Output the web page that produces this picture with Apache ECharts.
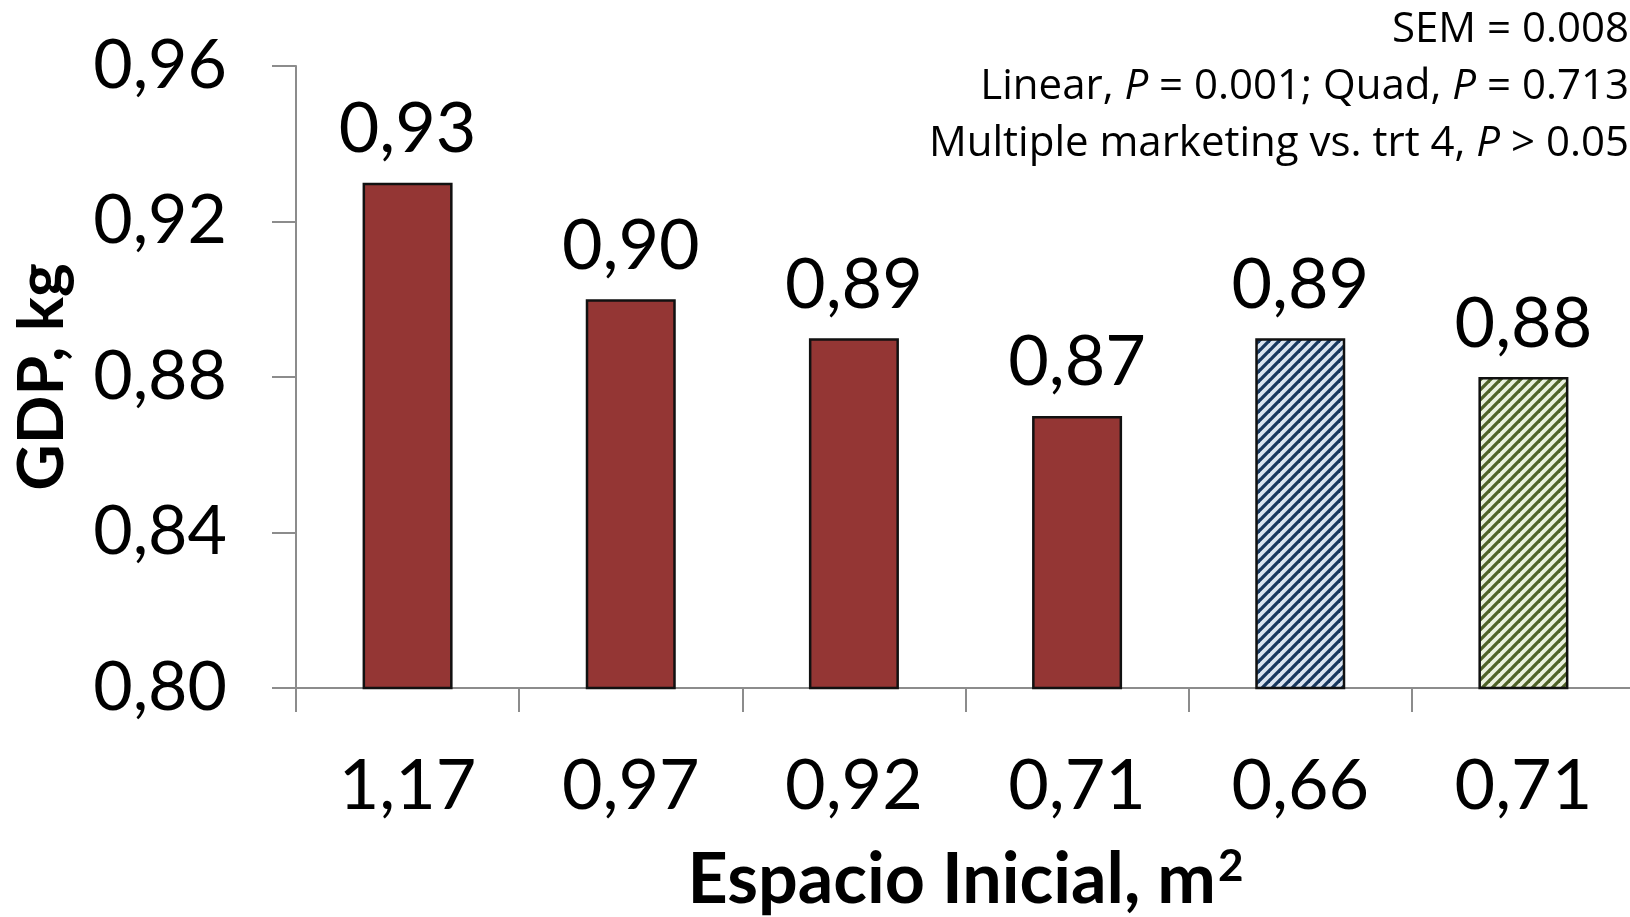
<!DOCTYPE html>
<html>
<head>
<meta charset="utf-8">
<script src="https://cdn.jsdelivr.net/npm/echarts@6/dist/echarts.min.js"></script>
<style>
  html, body { margin: 0; padding: 0; background: #ffffff; }
  #chart { width: 1630px; height: 917px; }
</style>
</head>
<body>
<div id="chart"></div>
<script>
// Initial floor space per treatment (m²) and average daily gain (kg)
const categories = ['1,17', '0,97', '0,92', '0,71', '0,66', '0,71'];
const gdpValues = [0.93, 0.90, 0.89, 0.87, 0.89, 0.88];
// Treatment kind: single placement vs. the two multiple-marketing groups
const treatmentKind = ['single', 'single', 'single', 'single', 'multiA', 'multiB'];
const yTicks = { min: 0.80, max: 0.96, step: 0.04 };
// Statistics note, top right; segments marked italic are drawn slanted
const noteLines = [
  [['SEM = 0.008', false]],
  [['Linear, ', false], ['P', true], [' = 0.001; Quad, ', false], ['P', true], [' = 0.713', false]],
  [['Multiple marketing vs. trt 4, ', false], ['P', true], [' > 0.05', false]]
];
const xTitle = 'Espacio Inicial, m';
const xTitleSup = '2';
const yTitle = 'GDP, kg';

const FONT = 'Lato, "Open Sans", sans-serif';
const NOTE_FONT = '"Open Sans", Lato, sans-serif';
const fmt = v => Number(v).toFixed(2).replace('.', ',');

// Diagonal hatch tile used for the multiple-marketing bars
function hatch(bg, fg) {
  const s = 10;
  const c = document.createElement('canvas');
  c.width = s; c.height = s;
  const g = c.getContext('2d');
  g.fillStyle = bg;
  g.fillRect(0, 0, s, s);
  g.strokeStyle = fg;
  g.lineWidth = 3.3;
  g.lineCap = 'square';
  [-s, 0, s].forEach(ox => {
    g.beginPath();
    g.moveTo(ox, s);
    g.lineTo(ox + s, 0);
    g.stroke();
  });
  return { image: c, repeat: 'repeat' };
}

const fills = {
  single: '#943634',
  multiA: hatch('#dbe5f1', '#17375e'),
  multiB: hatch('#ebf1de', '#4f6228')
};

const barData = gdpValues.map((v, i) => ({
  value: v,
  itemStyle: { color: fills[treatmentKind[i]] }
}));

// Note lines as rich text
const noteGraphics = noteLines.map((segs, li) => {
  const text = segs.map(([t, it]) => '{' + (it ? 'i' : 'r') + '|' + t + '}').join('');
  return {
    type: 'text',
    x: 1629,
    y: 30 + li * 57,
    style: {
      text: text,
      align: 'right',
      verticalAlign: 'middle',
      fill: '#000',
      font: '42px ' + NOTE_FONT,
      rich: {
        r: { fontSize: 42, fontFamily: NOTE_FONT, fill: '#000', color: '#000' },
        i: { fontSize: 42, fontFamily: NOTE_FONT, fontStyle: 'italic', fill: '#000', color: '#000' }
      }
    }
  };
});

const chart = echarts.init(document.getElementById('chart'), null, { renderer: 'canvas' });
chart.setOption({
  backgroundColor: '#ffffff',
  animation: false,
  grid: {
    left: 296, right: -5, top: 66, bottom: 229,
    containLabel: false, outerBoundsMode: 'none'
  },
  xAxis: {
    type: 'category',
    data: categories,
    name: '{t|' + xTitle + '}{s|' + xTitleSup + '}',
    nameLocation: 'middle',
    nameGap: 192,
    nameTextStyle: {
      fontFamily: FONT, fontWeight: 'bold', fontSize: 70, color: '#000',
      verticalAlign: 'middle',
      rich: {
        t: { fontFamily: FONT, fontWeight: 'bold', fontSize: 70, color: '#000' },
        s: { fontFamily: FONT, fontWeight: 'bold', fontSize: 44, color: '#000', padding: [0, 0, 26, 2] }
      }
    },
    axisLine: { show: true, lineStyle: { color: '#8c8c8c', width: 2 } },
    axisTick: { show: true, length: 24, lineStyle: { color: '#8c8c8c', width: 2 } },
    axisLabel: {
      margin: 98, verticalAlign: 'middle',
      fontFamily: FONT, fontSize: 70, color: '#000'
    },
    splitLine: { show: false }
  },
  yAxis: {
    type: 'value',
    min: yTicks.min,
    max: yTicks.max,
    interval: yTicks.step,
    name: yTitle,
    nameLocation: 'middle',
    nameGap: 254,
    nameRotate: 90,
    nameTextStyle: {
      fontFamily: FONT, fontWeight: 'bold', fontSize: 64, color: '#000',
      verticalAlign: 'middle'
    },
    axisLine: { show: true, lineStyle: { color: '#8c8c8c', width: 2 } },
    axisTick: { show: true, length: 24, lineStyle: { color: '#8c8c8c', width: 2 } },
    axisLabel: {
      margin: 69, fontFamily: FONT, fontSize: 68, color: '#000',
      formatter: v => fmt(v)
    },
    splitLine: { show: false }
  },
  series: [{
    type: 'bar',
    data: barData,
    barWidth: 90,
    itemStyle: { borderColor: '#111', borderWidth: 2.5 },
    label: {
      show: true,
      position: 'top',
      distance: 18,
      fontFamily: FONT,
      fontSize: 70,
      color: '#000',
      formatter: p => fmt(p.value)
    }
  }],
  graphic: noteGraphics
});
</script>
</body>
</html>
